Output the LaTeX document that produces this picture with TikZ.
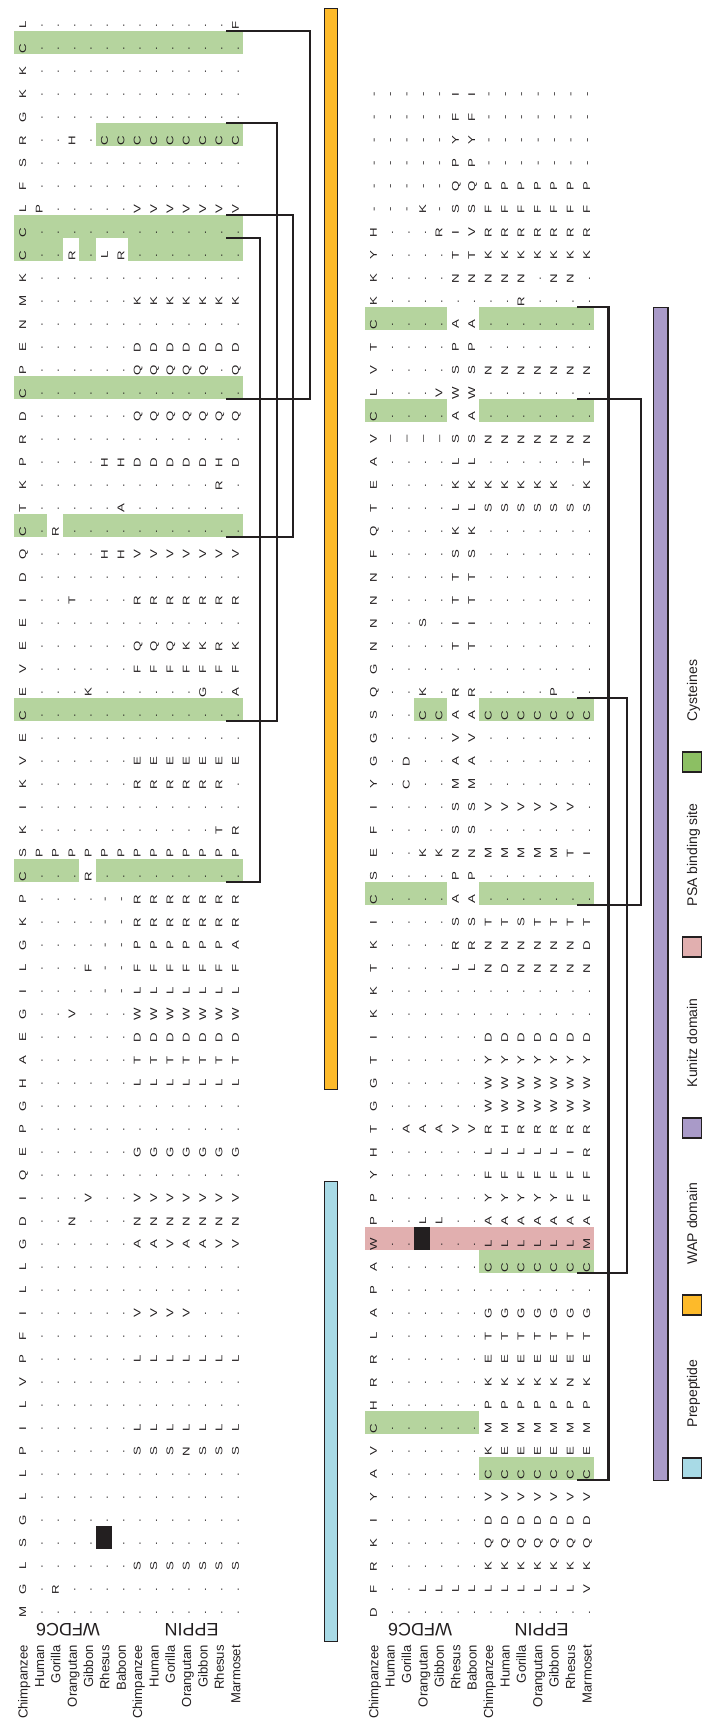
\documentclass[tikz,border=0pt]{standalone}
\usepackage{fontspec}
\setmainfont{Liberation Sans}
\usepackage{graphicx}
\usetikzlibrary{calc}

\definecolor{ink}{HTML}{231F20}
\definecolor{cysfill}{HTML}{B5D49E}
\definecolor{psafill}{HTML}{E1AFAF}
\definecolor{prefill}{HTML}{A8DAE6}
\definecolor{wapfill}{HTML}{FDBA2A}
\definecolor{kunfill}{HTML}{A99AC8}
\definecolor{cysdark}{HTML}{8CBF63}

\newcount\colno
\newcommand\alnrow[5]{\colno=0 \def\blk{#1}\def\xo{#2}\def\xs{#3}\def\rk{#4}\expandafter\alnnext#5\relax}
\def\alnnext#1{\ifx#1\relax\else
  \node[res] (\blk\rk-\the\colno) at ({\xo+\xs*\the\colno+3.5},{1612.3-23*(\rk-1)}) {\scalebox{1.35}[1]{\ifx#1*.\else#1\fi}};%
  \advance\colno by 1 \expandafter\alnnext\fi}
\newcommand\cellbox[7]{\node[#2, minimum width={(#7-#6)*#4+16.4}, anchor=north west] (#1) at ({#3+#4*#6-8.7},{1612.3-23*(#5-1)-17}) {};}

\begin{document}
\begin{tikzpicture}[x=1pt, y=-1pt,
  res/.style={rotate=90, anchor=base, inner sep=0pt, text=ink, font=\fontsize{9.8}{10}\selectfont},
  cys/.style={fill=cysfill, inner sep=0pt, outer sep=0pt, minimum height=23pt},
  psa/.style={fill=psafill, inner sep=0pt, outer sep=0pt, minimum height=23pt},
  stopbox/.style={fill=ink, inner sep=0pt, outer sep=0pt, minimum height=23pt},
  bond/.style={draw=ink, line width=2.2pt},
  species/.style={rotate=90, anchor=base east, inner sep=0pt, text=ink, font=\fontsize{13.1}{14}\selectfont},
  group/.style={rotate=180, inner sep=0pt, text=ink, font=\fontsize{18}{20}\selectfont},
  domainbar/.style={draw=ink, line width=1.2pt},
  key/.style={draw=ink, line width=1.2pt, minimum width=19pt, minimum height=20pt, inner sep=0pt},
  keytext/.style={rotate=90, anchor=base west, inner sep=0pt, text=ink, font=\fontsize{14}{16}\selectfont}]
\useasboundingbox (0,0) rectangle (709,1722);

% left block highlights
\cellbox{L33a}{cys}{22.7}{16.35}{33}{0}{3}
\cellbox{L33}{cys}{22.7}{16.35}{33}{5}{13}
\cellbox{L40}{cys}{22.7}{16.35}{40}{0}{13}
\cellbox{L48a}{cys}{22.7}{16.35}{48}{0}{1}
\cellbox{L48}{cys}{22.7}{16.35}{48}{3}{13}
\cellbox{L54}{cys}{22.7}{16.35}{54}{0}{13}
\cellbox{L60a}{cys}{22.7}{16.35}{60}{0}{2}
\cellbox{L60b}{cys}{22.7}{16.35}{60}{4}{4}
\cellbox{L60}{cys}{22.7}{16.35}{60}{7}{13}
\cellbox{L61}{cys}{22.7}{16.35}{61}{0}{13}
\cellbox{L65}{cys}{22.7}{16.35}{65}{5}{13}
\cellbox{L69}{cys}{22.7}{16.35}{69}{0}{13}
\cellbox{Lstop}{stopbox}{22.7}{16.35}{4}{5}{5}

% right block highlights
\cellbox{R7}{cys}{373.3}{16.4}{7}{7}{13}
\cellbox{R9}{cys}{373.3}{16.4}{9}{0}{6}
\cellbox{R16}{cys}{373.3}{16.4}{16}{7}{13}
\cellbox{Rpsa}{psa}{373.3}{16.4}{17}{0}{13}
\cellbox{Rstop}{stopbox}{373.3}{16.4}{17}{3}{3}
\cellbox{R32a}{cys}{373.3}{16.4}{32}{0}{4}
\cellbox{R32}{cys}{373.3}{16.4}{32}{7}{13}
\cellbox{R40a}{cys}{373.3}{16.4}{40}{3}{4}
\cellbox{R40}{cys}{373.3}{16.4}{40}{7}{13}
\cellbox{R53a}{cys}{373.3}{16.4}{53}{0}{4}
\cellbox{R53}{cys}{373.3}{16.4}{53}{7}{13}
\cellbox{R57a}{cys}{373.3}{16.4}{57}{0}{4}
\cellbox{R57}{cys}{373.3}{16.4}{57}{7}{13}

\foreach \rn/\rs in {1/M*************,2/G*R***********,3/L******SSSSSSS,4/S*************,
  5/G*************,6/L*************,7/L*************,8/P******SSSNSSS,9/I******LLLLLLL,
  10/L*************,11/V*************,12/P******LLLLLLL,13/F*************,14/I******VVVV***,
  15/L*************,16/L*************,17/G******AAVAAVV,18/D**N***NNNNNNN,19/I***V**VVVVVVV,
  20/Q*************,21/E******GGGGGGG,22/P*************,23/G*************,24/H******LLLLLLL,
  25/A******TTTTTTT,26/E******DDDDDDD,27/G**V***WWWWWWW,28/I****--LLLLLLL,29/L***F--FFFFFFF,
  30/G****--PPPPPPA,31/K****--RRRRRRR,32/P****--RRRRRRR,33/C***R*********,34/SPPPPPPPPPPPPP,
  35/K***********TR,36/I*************,37/K******RRRRRR*,38/V******EEEEEEE,39/E*************,
  40/C*************,41/E***K******G*A,42/V******FFFFFFF,43/E******QQQKKRK,44/E*************,
  45/I**T***RRRRRRR,46/D*************,47/Q****HHVVVVVVV,48/C*R***********,49/T*****A*******,
  50/K***********R*,51/P****HHDDDDDHD,52/R*************,53/D******QQQQQQQ,54/C*************,
  55/P******QQQQQ*Q,56/E******DDDDDDD,57/N*************,58/M******KKKKKKK,59/K*************,
  60/C**R*LR*******,61/C*************,62/LP*****VVVVVVV,63/F*************,64/S*************,
  65/R**H*CCCCCCCCC,66/G*************,67/K*************,68/K*************,69/C*************,
  70/L************F}
  {\alnrow{L}{22.7}{16.35}{\rn}{\rs}}

\foreach \rn/\rs in {1/D*************,2/F**LLLLLLLLLLV,3/R******KKKKKKK,4/K******QQQQQQQ,
  5/I******DDDDDDD,6/Y******VVVVVVV,7/A******CCCCCCC,8/V******KEEEEEE,9/C******MMMMMMM,
  10/H******PPPPPPP,11/R******KKKKKNK,12/R******EEEEEEE,13/L******TTTTTTT,14/A******GGGGGGG,
  15/P*************,16/A******CCCCCCC,17/W******LLLLLLM,18/P**LL**AAAAAAA,19/P******YYYYYFF,
  20/Y******FFFFFFF,21/H******LLLLLIR,22/T*AAAVVRHRRRRR,23/G******WWWWWWW,24/G******WWWWWWW,
  25/T******YYYYYYY,26/I******DDDDDDD,27/K*************,28/K*************,29/T****LLNDNNNNN,
  30/K****RRNNNNNND,31/I****SSTTSTTTT,32/C****AA*******,33/S****PP*******,34/E**KKNNMMMMMTI,
  35/F****SS*******,36/I****SSVVVVVV*,37/Y*C**MM*******,38/G*D**AA*******,39/G****VV*******,
  40/S**CCAACCCCCCC,41/Q**K*RR****P**,42/G*************,43/N****TT*******,44/N**S*II*******,
  45/N****TT*******,46/N****TT*******,47/F****SS*******,48/Q****KK*******,49/T****LLSSSSSSS,
  50/E****KKKKKKK*K,51/A****LL******T,52/V––––SSNNNNNNN,53/C****AA*******,54/L***VWW*******,
  55/V****SSNNNNNNN,56/T****PP*******,57/C****AA*******,58/K********R****,59/K****NNNNN*NN*,
  60/Y****TTKKKKKKK,61/H***RIVRRRRRRR,62/---K-SSFFFFFFF,63/-----QQPPPPPPP,64/-----PP-------,
  65/-----YY-------,66/-----FF-------,67/-----II-------}
  {\alnrow{R}{373.3}{16.4}{\rn}{\rs}}

\foreach \i/\n in {0/Chimpanzee,1/Human,2/Gorilla,3/Orangutan,4/Gibbon,5/Rhesus,6/Baboon,
  7/Chimpanzee,8/Human,9/Gorilla,10/Orangutan,11/Gibbon,12/Rhesus,13/Marmoset}{
  \node[species] (Lsp\i) at ({22.7+16.35*\i+5},1645) {\n};
  \node[species] (Rsp\i) at ({373.3+16.4*\i+5},1645) {\n};
}
\node[group] (Lwfdc) at (68,1630) {WFDC6};
\node[group] (Leppin) at (191.7,1630) {EPPIN};
\node[group] (Rwfdc) at (420,1630) {WFDC6};
\node[group] (Reppin) at (541.7,1630) {EPPIN};

\filldraw[domainbar, fill=wapfill] (324.5,8.3) rectangle (337.5,1089.3);
\filldraw[domainbar, fill=prefill] (324.5,1181.3) rectangle (337.5,1641.7);
\filldraw[domainbar, fill=kunfill] (653.5,307.3) rectangle (668,1480.3);

\draw[bond] ([xshift=-16.8pt]L69.north east) -- ++(84,0) |- ([xshift=-16.8pt]L54.south east);
\draw[bond] ([xshift=-16.8pt]L65.north east) -- ++(50.5,0) |- ([xshift=-16.8pt]L40.south east);
\draw[bond] ([xshift=-16.8pt]L61.north east) -- ++(67,0) |- ([xshift=-16.8pt]L48.south east);
\draw[bond] ([xshift=-16.8pt]L60.north east) -- ++(34,0) |- ([xshift=-16.8pt]L33.south east);
\draw[bond] ([xshift=-16.8pt]R57.north east) -- ++(31,0) |- ([xshift=-16.8pt]R7.south east);
\draw[bond] ([xshift=-16.8pt]R40.north east) -- ++(49.2,0) |- ([xshift=-16.8pt]R16.south east);
\draw[bond] ([xshift=-16.8pt]R53.north east) -- ++(63.6,0) |- ([xshift=-16.8pt]R32.south east);

\node[key, fill=prefill] (kPre) at (692,1468) {};
\node[key, fill=wapfill] (kWAP) at (692,1305) {};
\node[key, fill=kunfill] (kKun) at (692,1128) {};
\node[key, fill=psafill] (kPSA) at (692,947) {};
\node[key, fill=cysdark] (kCys) at (692,762) {};
\node[keytext] (tPre) at ($(kPre.north)+(5,-30)$) {Prepeptide};
\node[keytext] (tWAP) at ($(kWAP.north)+(5,-30)$) {WAP domain};
\node[keytext] (tKun) at ($(kKun.north)+(5,-30)$) {Kunitz domain};
\node[keytext] (tPSA) at ($(kPSA.north)+(5,-30)$) {PSA binding site};
\node[keytext] (tCys) at ($(kCys.north)+(5,-30)$) {Cysteines};
\end{tikzpicture}
\end{document}
